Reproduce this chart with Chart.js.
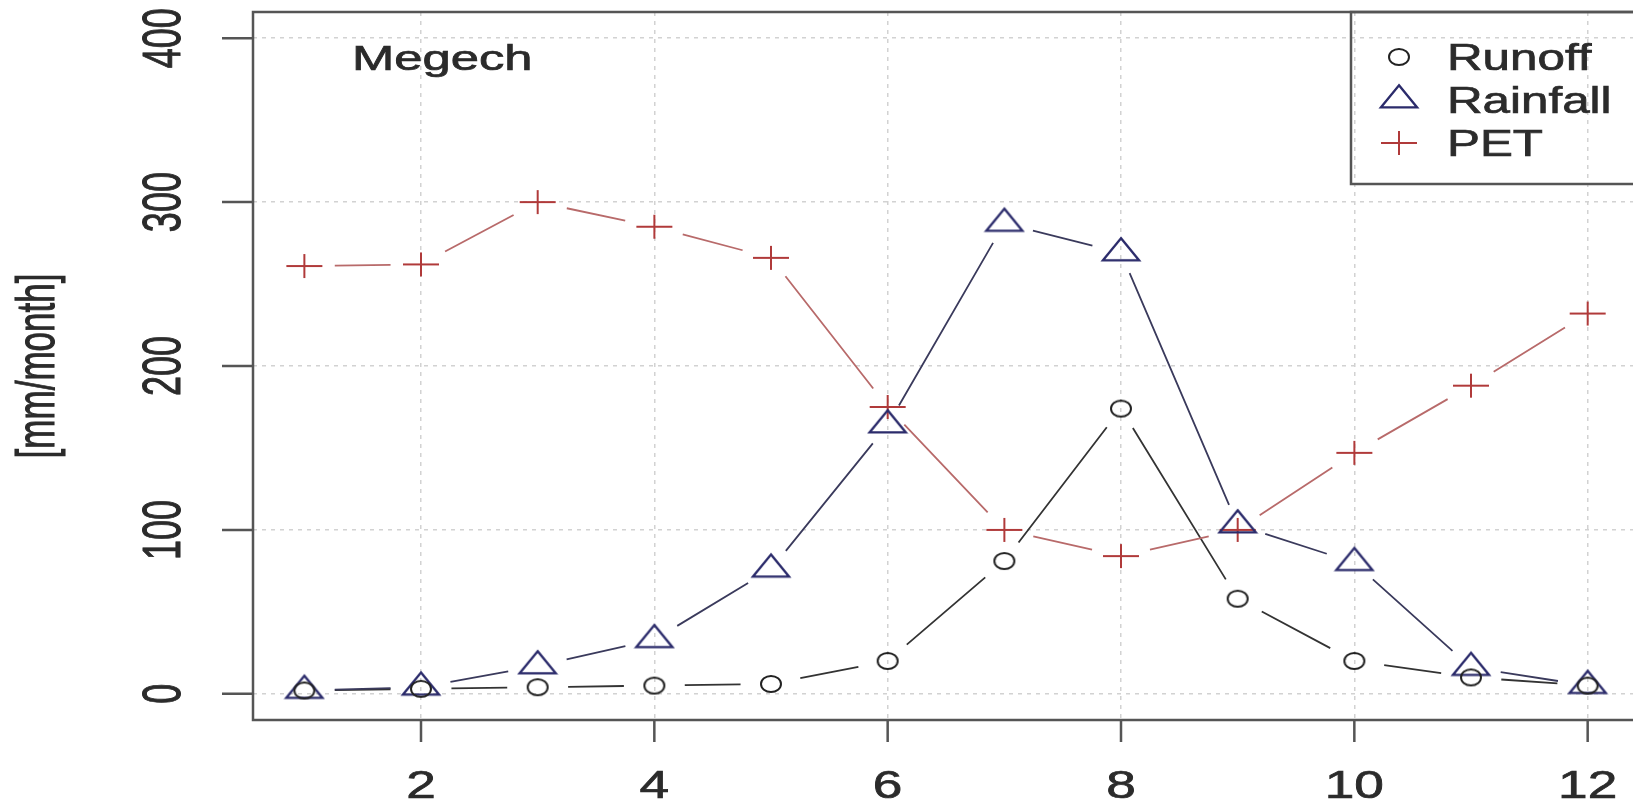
<!doctype html>
<html lang="en">
<head>
<meta charset="utf-8">
<title>Megech</title>
<style>
  * { margin: 0; padding: 0; }
  html, body { width: 1633px; height: 803px; overflow: hidden; background: #fff; }
  #chart { display: block; }
</style>
</head>
<body>
<canvas id="chart" width="1660" height="803"></canvas>
<script src="https://cdn.jsdelivr.net/npm/chart.js"></script>
<script>
  // values
  const months = [1, 2, 3, 4, 5, 6, 7, 8, 9, 10, 11, 12];
  const runoff = [2, 3, 4, 5, 6, 20, 81, 174, 58, 20, 10, 5];
  const rainfall = [2, 4, 17, 33, 76, 164, 287, 269, 103, 80, 16, 5];
  const pet = [261, 262, 300, 285, 266, 175, 100, 84, 100, 147, 188, 232];
  const seriesNames = ['Runoff', 'Rainfall', 'PET'];
  const stationName = 'Megech';
  const yTitle = '[mm/month]';

  const FONT = '"Liberation Sans", Arial, sans-serif';
  const TEXT = '#2b2b2b';
  const AXIS = '#555';
  const STRETCH = 1.45; // the picture is wider than tall

  // marker images (the reference is stretched sideways)
  function makeCircle() {
    const c = document.createElement('canvas');
    c.width = 26; c.height = 22;
    const g = c.getContext('2d');
    g.strokeStyle = '#222'; g.lineWidth = 2;
    g.beginPath(); g.ellipse(13, 11, 10, 8, 0, 0, Math.PI * 2); g.stroke();
    return c;
  }
  function makeTriangle() {
    const w = 36, h = 22, r = h / 1.5;
    const c = document.createElement('canvas');
    c.width = w + 6; c.height = Math.ceil(2 * r + 6);
    const g = c.getContext('2d');
    const cx = c.width / 2, cy = c.height / 2;
    g.strokeStyle = '#2b2b6b'; g.lineWidth = 2.4; g.lineJoin = 'miter';
    g.beginPath();
    g.moveTo(cx, cy - r);
    g.lineTo(cx + w / 2, cy + r / 2);
    g.lineTo(cx - w / 2, cy + r / 2);
    g.closePath(); g.stroke();
    return c;
  }
  function makePlus() {
    const c = document.createElement('canvas');
    c.width = 40; c.height = 28;
    const g = c.getContext('2d');
    g.strokeStyle = '#b03a3a'; g.lineWidth = 2;
    g.beginPath();
    g.moveTo(2, 14); g.lineTo(38, 14);
    g.moveTo(20, 2); g.lineTo(20, 26);
    g.stroke();
    return c;
  }
  const markers = [makeCircle(), makeTriangle(), makePlus()];
  const lineColors = ['#333', '#3a3a5c', '#b86a6a'];

  function toPoints(vals) {
    return months.map((m, i) => ({ x: m, y: vals[i] }));
  }

  function drawStretched(ctx, text, x, y, size, sx, rotated, align) {
    ctx.save();
    ctx.translate(x, y);
    if (rotated) {
      ctx.rotate(-Math.PI / 2);
      ctx.scale(1, sx);
    } else {
      ctx.scale(sx, 1);
    }
    ctx.font = size + 'px ' + FONT;
    ctx.fillStyle = TEXT;
    ctx.strokeStyle = TEXT;
    ctx.lineWidth = 0.7;
    ctx.textAlign = align || 'center';
    ctx.textBaseline = 'alphabetic';
    ctx.fillText(text, 0, 0);
    ctx.strokeText(text, 0, 0);
    ctx.restore();
  }

  // R type="b": lines with gaps around the points
  const gapLines = {
    id: 'gapLines',
    beforeDatasetsDraw(chart) {
      const ctx = chart.ctx, area = chart.chartArea;
      const gap = 21;
      ctx.save();
      ctx.beginPath();
      ctx.rect(area.left, area.top, area.right - area.left, area.bottom - area.top);
      ctx.clip();
      chart.data.datasets.forEach((ds, i) => {
        const pts = chart.getDatasetMeta(i).data;
        ctx.strokeStyle = lineColors[i];
        ctx.lineWidth = 1.8;
        ctx.beginPath();
        for (let k = 0; k < pts.length - 1; k++) {
          const a = pts[k], b = pts[k + 1];
          const dx = (b.x - a.x) / STRETCH, dy = b.y - a.y;
          const len = Math.hypot(dx, dy);
          if (len <= 2 * gap) continue;
          const ux = dx / len * gap * STRETCH, uy = dy / len * gap;
          ctx.moveTo(a.x + ux, a.y + uy);
          ctx.lineTo(b.x - ux, b.y - uy);
        }
        ctx.stroke();
      });
      ctx.restore();
    }
  };

  // box, ticks, labels and legend in the style of the reference
  const frame = {
    id: 'frame',
    afterDraw(chart) {
      const ctx = chart.ctx, a = chart.chartArea;
      const xs = chart.scales.x, ys = chart.scales.y;
      ctx.save();
      ctx.strokeStyle = AXIS;
      ctx.lineWidth = 2.5;
      ctx.strokeRect(a.left, a.top, a.right - a.left, a.bottom - a.top);

      ctx.lineWidth = 2.5;
      ctx.beginPath();
      xs.ticks.forEach(t => {
        const px = xs.getPixelForValue(t.value);
        ctx.moveTo(px, a.bottom); ctx.lineTo(px, a.bottom + 22);
      });
      ys.ticks.forEach(t => {
        const py = ys.getPixelForValue(t.value);
        ctx.moveTo(a.left, py); ctx.lineTo(a.left - 31, py);
      });
      ctx.stroke();

      xs.ticks.forEach(t => {
        drawStretched(ctx, String(t.value), xs.getPixelForValue(t.value), a.bottom + 78, 38, 1.4, false);
      });
      ys.ticks.forEach(t => {
        drawStretched(ctx, String(t.value), a.left - 73, ys.getPixelForValue(t.value), 36, 1.5, true);
      });
      drawStretched(ctx, yTitle, 54, (a.top + a.bottom) / 2, 35, 1.55, true);
      drawStretched(ctx, stationName, 352, 70, 35, 1.45, false, 'left');

      // legend box in the top right corner
      const lx = 1351, ly = a.top, lb = 184;
      ctx.strokeStyle = AXIS;
      ctx.lineWidth = 2.5;
      ctx.strokeRect(lx, ly, a.right - lx, lb - ly);
      const rows = [57, 100, 143];
      seriesNames.forEach((name, i) => {
        const img = markers[i];
        ctx.drawImage(img, 1399 - img.width / 2, rows[i] - img.height / 2);
        drawStretched(ctx, name, 1447, rows[i] + 13, 36, 1.37, false, 'left');
      });
      ctx.restore();
    }
  };

  const datasets = [runoff, rainfall, pet].map((vals, i) => ({
    label: seriesNames[i],
    data: toPoints(vals),
    showLine: false,
    pointStyle: markers[i],
    pointRadius: 10,
    pointHoverRadius: 10
  }));

  const gridLine = {
    color: '#d2d2d2',
    lineWidth: 1.5,
    drawTicks: false
  };

  new Chart(document.getElementById('chart'), {
    type: 'scatter',
    data: { datasets },
    options: {
      responsive: false,
      animation: false,
      events: [],
      layout: { padding: { left: 253, top: 12, right: 21, bottom: 83 } },
      plugins: { legend: { display: false }, tooltip: { enabled: false } },
      scales: {
        x: {
          type: 'linear',
          min: 0.56,
          max: 12.44,
          ticks: { display: false, stepSize: 2, includeBounds: false },
          grid: gridLine,
          border: { display: false, dash: [4, 5] }
        },
        y: {
          type: 'linear',
          min: -16,
          max: 416,
          ticks: { display: false, stepSize: 100, includeBounds: false },
          grid: gridLine,
          border: { display: false, dash: [4, 5] }
        }
      }
    },
    plugins: [gapLines, frame]
  });
</script>
</body>
</html>
